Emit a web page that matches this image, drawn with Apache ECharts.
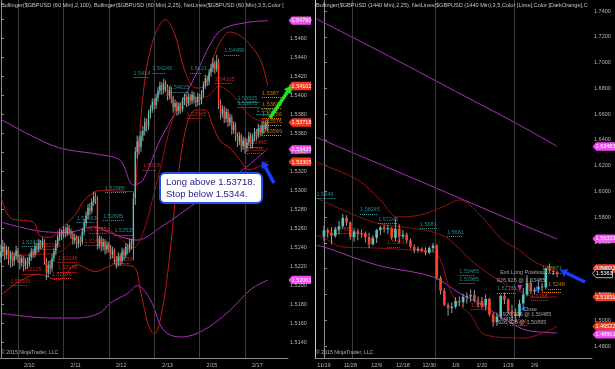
<!DOCTYPE html>
<html><head><meta charset="utf-8">
<script src="https://cdn.jsdelivr.net/npm/echarts@6/dist/echarts.min.js"></script>
<style>html,body{margin:0;padding:0;background:#000;}#c{width:615px;height:369px;}</style>
</head><body><div id="c"></div>
<script>
// ---------- LEFT PANEL (60 min) ----------
const leftDayLabels = ['2/10','2/11','2/12','2/13','2/15','2/17'];
const leftDayPos = [15, 39.5, 63.5, 88, 111.5, 135.5];
const leftDaySep = [9, 33, 57, 81, 105, 129];
const leftPriceTicks = [1.514,1.516,1.518,1.520,1.522,1.524,1.526,1.528,1.530,1.532,1.534,1.536,1.538,1.540,1.542,1.544,1.546,1.548];
// [open, close, low, high]
const leftCandles = [
[1.5230,1.5236,1.5224,1.5243],[1.5236,1.5241,1.5231,1.5248],[1.5241,1.5232,1.5227,1.5245],[1.5232,1.5238,1.5228,1.5242],
[1.5238,1.5228,1.5222,1.5241],[1.5228,1.5233,1.5219,1.5237],[1.5233,1.5226,1.5220,1.5236],[1.5226,1.5231,1.5221,1.5235],
[1.5231,1.5237,1.5227,1.5242],[1.5237,1.5229,1.5224,1.5240],[1.5229,1.5224,1.5217,1.5233],[1.5224,1.5229,1.5220,1.5232],
[1.5229,1.5221,1.5215,1.5231],[1.5221,1.5226,1.5217,1.5229],[1.5226,1.5223,1.5218,1.5230],[1.5223,1.5230,1.5220,1.5234],
[1.5230,1.5236,1.5226,1.5240],[1.5236,1.5233,1.5229,1.5239],[1.5233,1.5241,1.5230,1.5245],[1.5241,1.5238,1.5234,1.5244],
[1.5238,1.5245,1.5235,1.5249],[1.5245,1.5242,1.5238,1.5248],[1.5242,1.5247,1.5239,1.5251],[1.5247,1.5226,1.5222,1.5249],
[1.5226,1.5214,1.5206,1.5229],[1.5214,1.5222,1.5209,1.5226],[1.5222,1.5218,1.5212,1.5227],[1.5218,1.5229,1.5215,1.5233],
[1.5229,1.5236,1.5225,1.5240],[1.5236,1.5244,1.5232,1.5248],[1.5244,1.5251,1.5240,1.5255],[1.5251,1.5256,1.5247,1.5260],
[1.5256,1.5253,1.5248,1.5259],[1.5253,1.5259,1.5250,1.5263],[1.5259,1.5255,1.5251,1.5262],[1.5255,1.5261,1.5252,1.5265],
[1.5261,1.5257,1.5253,1.5264],[1.5257,1.5254,1.5249,1.5260],[1.5254,1.5248,1.5243,1.5257],[1.5248,1.5251,1.5244,1.5255],
[1.5251,1.5244,1.5239,1.5253],[1.5244,1.5249,1.5240,1.5252],[1.5249,1.5246,1.5241,1.5252],[1.5246,1.5257,1.5243,1.5261],
[1.5257,1.5266,1.5253,1.5270],[1.5266,1.5274,1.5262,1.5278],[1.5274,1.5282,1.5270,1.5286],[1.5282,1.5279,1.5274,1.5287],
[1.5279,1.5288,1.5276,1.5292],[1.5288,1.5294,1.5284,1.5299],[1.5294,1.5291,1.5286,1.5298],[1.5291,1.5243,1.5238,1.5294],
[1.5243,1.5249,1.5239,1.5253],[1.5249,1.5241,1.5236,1.5252],[1.5241,1.5246,1.5237,1.5250],[1.5246,1.5238,1.5233,1.5249],
[1.5238,1.5243,1.5234,1.5247],[1.5243,1.5240,1.5235,1.5246],[1.5240,1.5233,1.5228,1.5243],[1.5233,1.5237,1.5229,1.5241],
[1.5237,1.5228,1.5223,1.5239],[1.5228,1.5224,1.5218,1.5231],[1.5224,1.5231,1.5220,1.5235],[1.5231,1.5226,1.5221,1.5234],
[1.5226,1.5236,1.5223,1.5240],[1.5236,1.5232,1.5227,1.5239],[1.5232,1.5241,1.5229,1.5245],[1.5241,1.5238,1.5233,1.5244],
[1.5238,1.5246,1.5235,1.5250],[1.5246,1.5243,1.5238,1.5249],[1.5243,1.5292,1.5227,1.5298],[1.5292,1.5341,1.5285,1.5346],
[1.5341,1.5352,1.5334,1.5358],[1.5352,1.5346,1.5338,1.5357],[1.5346,1.5358,1.5341,1.5363],[1.5358,1.5363,1.5352,1.5368],
[1.5363,1.5372,1.5358,1.5377],[1.5372,1.5368,1.5362,1.5376],[1.5368,1.5381,1.5364,1.5385],[1.5381,1.5386,1.5376,1.5390],
[1.5386,1.5393,1.5382,1.5397],[1.5393,1.5390,1.5385,1.5397],[1.5390,1.5398,1.5386,1.5402],[1.5398,1.5405,1.5394,1.5409],
[1.5405,1.5411,1.5401,1.5415],[1.5411,1.5406,1.5401,1.5414],[1.5406,1.5413,1.5402,1.5418],[1.5413,1.5409,1.5404,1.5416],
[1.5409,1.5400,1.5395,1.5412],[1.5400,1.5406,1.5396,1.5410],[1.5406,1.5397,1.5392,1.5409],[1.5397,1.5388,1.5382,1.5400],
[1.5388,1.5392,1.5384,1.5396],[1.5392,1.5384,1.5379,1.5394],[1.5384,1.5389,1.5380,1.5393],[1.5389,1.5386,1.5381,1.5392],
[1.5386,1.5394,1.5383,1.5398],[1.5394,1.5398,1.5390,1.5402],[1.5398,1.5392,1.5388,1.5401],[1.5392,1.5399,1.5389,1.5403],
[1.5399,1.5395,1.5390,1.5402],[1.5395,1.5401,1.5391,1.5405],[1.5401,1.5396,1.5392,1.5404],[1.5396,1.5393,1.5388,1.5399],
[1.5393,1.5399,1.5389,1.5403],[1.5399,1.5395,1.5390,1.5402],[1.5395,1.5402,1.5391,1.5406],[1.5402,1.5411,1.5398,1.5415],
[1.5411,1.5418,1.5407,1.5422],[1.5418,1.5415,1.5410,1.5421],[1.5415,1.5424,1.5411,1.5428],[1.5424,1.5429,1.5420,1.5433],
[1.5429,1.5434,1.5425,1.5440],[1.5434,1.5428,1.5423,1.5437],[1.5428,1.5436,1.5425,1.5443],[1.5436,1.5392,1.5386,1.5439],
[1.5392,1.5381,1.5375,1.5396],[1.5381,1.5386,1.5377,1.5390],[1.5386,1.5376,1.5371,1.5389],[1.5376,1.5383,1.5372,1.5387],
[1.5383,1.5372,1.5367,1.5386],[1.5372,1.5377,1.5368,1.5381],[1.5377,1.5364,1.5359,1.5380],[1.5364,1.5369,1.5360,1.5373],
[1.5369,1.5357,1.5352,1.5372],[1.5357,1.5352,1.5346,1.5361],[1.5352,1.5358,1.5348,1.5362],[1.5358,1.5347,1.5341,1.5360],
[1.5347,1.5353,1.5343,1.5357],[1.5353,1.5345,1.5339,1.5356],[1.5345,1.5351,1.5341,1.5355],[1.5351,1.5358,1.5347,1.5362],
[1.5358,1.5349,1.5344,1.5361],[1.5349,1.5356,1.5345,1.5360],[1.5356,1.5362,1.5352,1.5366],[1.5362,1.5358,1.5353,1.5365],
[1.5358,1.5366,1.5355,1.5370],[1.5366,1.5361,1.5357,1.5369],[1.5361,1.5369,1.5358,1.5373],[1.5369,1.5365,1.5360,1.5372],
[1.5365,1.5371,1.5362,1.5375],[1.5371,1.5366,1.5362,1.5374]
];
const leftBB100Upper = [[0,1.5375],[16,1.5358],[31,1.5345],[52,1.5338],[63,1.5332],[70,1.5306],[75,1.5311],[84,1.5353],[100,1.5410],[112,1.5459],[118,1.5471],[130,1.5477],[141,1.5479]];
const leftBB100Mid = [[0,1.5267],[22,1.5257],[35,1.5256],[49,1.5262],[56,1.5257],[64,1.5251],[72,1.5248],[84,1.5261],[105,1.5290],[126,1.5319],[141,1.5344]];
const leftBB100Lower = [[0,1.5171],[26,1.5166],[40,1.5166],[52,1.5171],[58,1.5182],[67,1.5192],[72,1.5200],[79,1.5185],[86,1.5153],[95,1.5146],[107,1.5153],[121,1.5174],[132,1.5196],[141,1.5206]];
const leftBB25Upper = [[0,1.5293],[5,1.5271],[10,1.5269],[17,1.5267],[21,1.5252],[26,1.5251],[31,1.5259],[39,1.5274],[44,1.5290],[49,1.5298],[52,1.5300],[70,1.5299],[72,1.5330],[76,1.5416],[81,1.5462],[87,1.5480],[92,1.5464],[97,1.5427],[103,1.5408],[108,1.5411],[112,1.5438],[116,1.5457],[121,1.5467],[129,1.5459],[137,1.5438],[141,1.5410]];
const leftBB25Mid = [[0,1.5238],[10,1.5232],[20,1.5233],[30,1.5235],[40,1.5250],[50,1.5262],[60,1.5255],[70,1.5240],[75,1.5255],[80,1.5290],[85,1.5330],[90,1.5370],[95,1.5393],[100,1.5398],[105,1.5398],[110,1.5400],[115,1.5410],[120,1.5405],[125,1.5395],[130,1.5382],[135,1.5375],[141,1.5372]];
const leftBB25Lower = [[0,1.5190],[10,1.5205],[20,1.5212],[30,1.5206],[40,1.5222],[50,1.5215],[60,1.5222],[70,1.5220],[74,1.5192],[78,1.5158],[81,1.5149],[85,1.5172],[89,1.5228],[93,1.5305],[98,1.5368],[103,1.5385],[108,1.5385],[112,1.5368],[116,1.5352],[121,1.5345],[126,1.5333],[131,1.5322],[136,1.5325],[141,1.5331]];
// net lines: [fromBar, toBar, price, text]
const leftNetTeal = [[11,19,1.52416,'1.52416'],[40,49,1.52663,'1.52663'],[55,66,1.52985,'1.52985'],[54,65,1.52685,'1.52685'],[60,70,1.52535,'1.52535'],[70,78,1.5419,'1.5414'],[80,87,1.5424,'1.54245'],[100,106,1.5424,'1.5421'],[89,99,1.5404,'1.54025'],[118,126,1.5443,'1.54489'],[125,137,1.5393,'1.53925'],[125,137,1.5388,'1.53875'],[135,142,1.5380,'1.53805']];
const leftNetRed = [[5,14,1.52005,'1.52005'],[11,19,1.52125,'1.52125'],[21,30,1.52386,'1.52386'],[30,40,1.52245,'1.52245'],[30,40,1.52146,'1.52146'],[27,37,1.52075,'1.52075'],[44,52,1.52426,'1.52426'],[47,56,1.52551,'1.52551'],[59,68,1.52236,'1.52236'],[75,82,1.5322,'1.5319'],[98,106,1.5376,'1.53765'],[113,122,1.5413,'1.54105'],[130,138,1.5346,'1.53465'],[130,138,1.5339,'1.5336']];
const leftNetOrange = [[138,148,1.5398,'1.5387'],[138,148,1.5387,'1.53815'],[138,148,1.5376,'1.53756'],[138,148,1.5369,'1.53576'],[138,148,1.5358,'1.53549']];
const leftTagVals = [1.54790,1.54102,1.53718,1.53435,1.53305,1.52061];
const leftTagKinds = ['pink','red','red','pink','red','pink'];

// ---------- RIGHT PANEL (1440 min) ----------
const rightDateLabels = ['11/19','11/28','12/9','12/18','12/30','1/9','1/20','1/29','2/9'];
const rightDatePos = [0,7,14,21,28,35,42,49,56];
const rightMonthSep = [7.5,29.5,50.5];
const rightPriceTicks = [1.48,1.50,1.52,1.54,1.56,1.58,1.60,1.62,1.64,1.66,1.68,1.70,1.72,1.74];
const rightCandles = [
[1.5650,1.5700,1.5615,1.5735],[1.5700,1.5680,1.5640,1.5715],[1.5680,1.5655,1.5590,1.5720],[1.5655,1.5705,1.5640,1.5725],
[1.5705,1.5730,1.5665,1.5770],[1.5730,1.5795,1.5710,1.5825],[1.5795,1.5760,1.5735,1.5815],[1.5760,1.5645,1.5625,1.5765],
[1.5645,1.5690,1.5610,1.5715],[1.5690,1.5675,1.5620,1.5710],[1.5675,1.5670,1.5640,1.5705],[1.5670,1.5645,1.5605,1.5690],
[1.5645,1.5590,1.5560,1.5680],[1.5590,1.5640,1.5580,1.5660],[1.5640,1.5700,1.5600,1.5710],[1.5700,1.5720,1.5660,1.5735],
[1.5720,1.5705,1.5680,1.5740],[1.5705,1.5715,1.5670,1.5740],[1.5715,1.5640,1.5625,1.5725],[1.5640,1.5710,1.5615,1.5785],
[1.5710,1.5650,1.5600,1.5745],[1.5650,1.5665,1.5630,1.5700],[1.5665,1.5620,1.5595,1.5680],[1.5620,1.5570,1.5555,1.5635],
[1.5570,1.5545,1.5520,1.5590],[1.5545,1.5555,1.5525,1.5575],[1.5555,1.5540,1.5525,1.5565],[1.5540,1.5525,1.5505,1.5565],
[1.5525,1.5560,1.5515,1.5575],[1.5560,1.5580,1.5530,1.5600],[1.5580,1.5330,1.5315,1.5590],[1.5330,1.5230,1.5200,1.5345],
[1.5230,1.5120,1.5110,1.5250],[1.5120,1.5095,1.5035,1.5135],[1.5095,1.5105,1.5055,1.5140],[1.5105,1.5150,1.5090,1.5180],
[1.5150,1.5140,1.5110,1.5185],[1.5140,1.5180,1.5100,1.5205],[1.5180,1.5185,1.5130,1.5215],[1.5185,1.5195,1.5140,1.5240],
[1.5195,1.5155,1.5140,1.5235],[1.5155,1.5150,1.5100,1.5185],[1.5150,1.5115,1.5090,1.5180],[1.5115,1.5165,1.5075,1.5200],
[1.5165,1.5045,1.5030,1.5175],[1.5045,1.4985,1.4950,1.5060],[1.4985,1.5030,1.4955,1.5060],[1.5030,1.5190,1.5010,1.5200],
[1.5190,1.5160,1.5125,1.5215],[1.5160,1.5070,1.5050,1.5170],[1.5070,1.5050,1.5015,1.5120],[1.5050,1.5035,1.4990,1.5090],
[1.5035,1.5130,1.5020,1.5160],[1.5130,1.5200,1.5105,1.5250],[1.5200,1.5290,1.5185,1.5350],[1.5290,1.5225,1.5205,1.5310],
[1.5225,1.5235,1.5200,1.5255],[1.5235,1.5260,1.5210,1.5300],[1.5260,1.5255,1.5225,1.5290],[1.5255,1.5405,1.5240,1.5410],
[1.5405,1.5385,1.5365,1.5440],[1.5385,1.5375,1.5350,1.5390],[1.5375,1.5363,1.5335,1.5385]
];
const rightBB100Upper = [[-2,1.7340],[10,1.7160],[20,1.7009],[30,1.6854],[40,1.6700],[50,1.6547],[62,1.6350]];
const rightBB100Mid = [[-2,1.6420],[10,1.6271],[20,1.6148],[30,1.6024],[40,1.5899],[50,1.5775],[62,1.5631]];
const rightBB100Lower = [[-2,1.5580],[0,1.5569],[14,1.5429],[29,1.5336],[36,1.5211],[42,1.5120],[48,1.5010],[53,1.4930],[57,1.4910],[62,1.4901]];
const rightBB25Upper = [[-2,1.6230],[0,1.6205],[9,1.6089],[15,1.5934],[19.5,1.5802],[25.5,1.5817],[31.5,1.5879],[36,1.5934],[41.5,1.5817],[47.5,1.5623],[52,1.5545],[56.5,1.5444],[62,1.5402]];
const rightBB25Mid = [[-2,1.5949],[5,1.5856],[14,1.5755],[23,1.5716],[29,1.5685],[33.5,1.5623],[39,1.5468],[43.5,1.5367],[47.5,1.5289],[51.5,1.5235],[56.5,1.5180],[62,1.5181]];
const rightBB25Lower = [[-2,1.5660],[0,1.5639],[5,1.5569],[14,1.5561],[23,1.5545],[29,1.5530],[31,1.5468],[33.5,1.5235],[36,1.5118],[39,1.5041],[43,1.4885],[53,1.4862],[62,1.4952]];
const rightNetTeal = [[-2,3,1.5949,'1.5949'],[9.6,14.4,1.5825,'1.58245'],[14.4,19.7,1.5752,'1.57245'],[25.5,30,1.5716,'1.5681'],[32.7,36.7,1.5654,'1.5661'],[36,40,1.5351,'1.53485'],[36,40,1.5289,'1.52985'],[46,51,1.5212,'1.52135']];
const rightNetRed = [[1.5,11.4,1.5677,'1.56785'],[16.8,20.2,1.5569,'1.5569'],[55,59.6,1.5157,'1.5158'],[39,43,1.5083,'1.5083'],[49.5,54,1.4963,'1.4996']];
const rightNetOrange = [[59.6,63,1.5243,'1.5248'],[58,63,1.5215,'']];
const rightNetLime = [[58,63,1.5367,'1.53671']];
const rightTradeText = [[52.7,1.5367,'Exit Long Position'],[52.4,1.5305,'926,926 @ 1.53485'],[54.8,1.5087,'Close'],[54,1.5048,'926,926 @ 1.50485'],[48.7,1.5017,'Long'],[52.7,1.4986,'926,926 @ 1.50895']];
const rightExitMarks = [[52.1,1.5250]];
const rightEntryMarks = [[56.6,1.5246],[53,1.5100]];
const rightTagVals = [1.63483,1.56332,1.54022,1.51811,1.49522,1.48901];
const rightTagKinds = ['pink','pink','red','red','red','pink'];
const rightLastPrice = 1.5363;

// ---------- styling ----------
const UP = '#52c6bd', DOWN = '#ff4322', WICK = '#9c9c9c';
const MAG = '#b02cc0', BRED = '#c01818', BRED2 = '#9a1010';
const TEAL = '#2aa8a8', NRED = '#e8321e', ORANGE = '#ff8c00', LIME = '#32cd32';
const AX = '#8a8a8a', TXT = '#b8b8b8';
const FONT = 'Arial, "Liberation Sans", sans-serif';

function candleRenderer(ratio) {
  return function (params, api) {
    const x = api.value(0), o = api.value(1), c = api.value(2), l = api.value(3), h = api.value(4);
    const pO = api.coord([x, o]), pC = api.coord([x, c]), pL = api.coord([x, l]), pH = api.coord([x, h]);
    const w = Math.max(api.size([1, 0])[0] * ratio, 1);
    const top = Math.min(pO[1], pC[1]), bot = Math.max(pO[1], pC[1]);
    return { type: 'group', children: [
      { type: 'line', shape: { x1: pL[0], y1: pL[1], x2: pH[0], y2: pH[1] }, style: { stroke: WICK, lineWidth: 1 } },
      { type: 'rect', shape: { x: pO[0] - w / 2, y: top, width: w, height: Math.max(bot - top, 1) }, style: { fill: c >= o ? UP : DOWN } }
    ]};
  };
}
function band(data, color, xi, width) {
  return { type: 'line', xAxisIndex: xi, yAxisIndex: xi, data: data, smooth: 0.35, showSymbol: false, silent: true,
    lineStyle: { color: color, width: width || 1 }, z: 3 };
}
function netLines(arr, color, xi) {
  return [
    { type: 'lines', coordinateSystem: 'cartesian2d', xAxisIndex: xi, yAxisIndex: xi, silent: true, z: 4,
      data: arr.map(d => ({ coords: [[d[0], d[2]], [d[1], d[2]]] })),
      lineStyle: { color: color, width: 1, type: [1, 1], opacity: 1 } },
    { type: 'scatter', xAxisIndex: xi, yAxisIndex: xi, silent: true, z: 5, symbolSize: 0,
      data: arr.map(d => [d[0], d[2], d[3]]),
      label: { show: true, position: [0, -7], formatter: p => p.data[2], color: color, fontSize: 5.5, fontFamily: FONT } }
  ];
}
function sepLines(arr, xi) {
  return { type: 'line', xAxisIndex: xi, yAxisIndex: xi, data: [], silent: true,
    markLine: { symbol: 'none', silent: true, label: { show: false }, animation: false,
      lineStyle: { color: '#3a3a3a', width: 1, type: 'solid' }, data: arr.map(v => ({ xAxis: v })) } };
}

const chart = echarts.init(document.getElementById('c'), null, { renderer: 'canvas' });
const option = {
  backgroundColor: '#000',
  animation: false,
  grid: [
    { left: 0, top: 0, width: 288, height: 358 },
    { left: 315, top: 0, width: 277, height: 358 }
  ],
  xAxis: [
    { type: 'value', gridIndex: 0, min: -0.5, max: 151.7, splitLine: { show: false },
      axisLine: { show: true, onZero: false, lineStyle: { color: AX } }, axisTick: { show: false },
      axisLabel: { customValues: leftDayPos, color: TXT, fontSize: 5.5, fontFamily: FONT, margin: 4,
        formatter: v => leftDayLabels[leftDayPos.indexOf(v)] || '' } },
    { type: 'value', gridIndex: 1, min: -2.39, max: 71.28, splitLine: { show: false },
      axisLine: { show: true, onZero: false, lineStyle: { color: AX } }, axisTick: { show: false },
      axisLabel: { customValues: rightDatePos, color: TXT, fontSize: 5.5, fontFamily: FONT, margin: 4,
        formatter: v => rightDateLabels[rightDatePos.indexOf(v)] || '' } }
  ],
  yAxis: [
    { type: 'value', gridIndex: 0, position: 'right', min: 1.51239, max: 1.55007, splitLine: { show: false },
      axisLine: { show: true, lineStyle: { color: AX } },
      axisTick: { show: true, length: 3, customValues: leftPriceTicks, lineStyle: { color: AX } },
      axisLabel: { customValues: leftPriceTicks, color: TXT, fontSize: 5.5, fontFamily: FONT, margin: 2, formatter: v => v.toFixed(4) } },
    { type: 'value', gridIndex: 1, position: 'right', min: 1.4707, max: 1.7486, splitLine: { show: false },
      axisLine: { show: true, lineStyle: { color: AX } },
      axisTick: { show: true, length: 3, customValues: rightPriceTicks, lineStyle: { color: AX } },
      axisLabel: { customValues: rightPriceTicks, color: TXT, fontSize: 5.5, fontFamily: FONT, margin: 2, formatter: v => v.toFixed(4) } },
    { type: 'value', gridIndex: 1, position: 'left', min: 1.4707, max: 1.7486, splitLine: { show: false },
      axisLine: { show: true, lineStyle: { color: '#c8c8c8' } }, axisTick: { show: false }, axisLabel: { show: false } }
  ],
  series: [
    sepLines(leftDaySep, 0),
    sepLines(rightMonthSep, 1),
    band(leftBB100Upper, MAG, 0), band(leftBB100Mid, MAG, 0), band(leftBB100Lower, MAG, 0),
    band(leftBB25Upper, BRED, 0), band(leftBB25Mid, BRED2, 0), band(leftBB25Lower, BRED, 0),
    band(rightBB100Upper, MAG, 1), band(rightBB100Mid, MAG, 1), band(rightBB100Lower, MAG, 1),
    band(rightBB25Upper, BRED2, 1), band(rightBB25Mid, BRED2, 1), band(rightBB25Lower, BRED2, 1),
    { type: 'custom', xAxisIndex: 0, yAxisIndex: 0, clip: true, z: 6, silent: true,
      data: leftCandles.map((d, i) => [i, d[0], d[1], d[2], d[3]]), encode: { x: 0, y: [1, 2, 3, 4] },
      renderItem: candleRenderer(0.7) },
    { type: 'custom', xAxisIndex: 1, yAxisIndex: 1, clip: true, z: 6, silent: true,
      data: rightCandles.map((d, i) => [i, d[0], d[1], d[2], d[3]]), encode: { x: 0, y: [1, 2, 3, 4] },
      renderItem: candleRenderer(0.7) },
    ...netLines(leftNetTeal, TEAL, 0), ...netLines(leftNetRed, NRED, 0), ...netLines(leftNetOrange, ORANGE, 0),
    ...netLines(rightNetTeal, TEAL, 1), ...netLines(rightNetRed, NRED, 1), ...netLines(rightNetOrange, ORANGE, 1), ...netLines(rightNetLime, LIME, 1),
    { type: 'scatter', xAxisIndex: 1, yAxisIndex: 1, symbolSize: 0, silent: true, z: 7,
      data: rightTradeText, label: { show: true, position: 'inside', formatter: p => p.data[2], color: '#c8c8c8', fontSize: 5.5, fontFamily: FONT } },
    { type: 'scatter', xAxisIndex: 1, yAxisIndex: 1, symbol: 'triangle', symbolRotate: 180, symbolSize: [5, 6], silent: true, z: 7,
      data: rightExitMarks, itemStyle: { color: '#ff30ff' } },
    { type: 'scatter', xAxisIndex: 1, yAxisIndex: 1, symbol: 'triangle', symbolSize: [5, 6], silent: true, z: 7,
      data: rightEntryMarks, itemStyle: { color: '#2060ff' } }
  ]
};
chart.setOption(option);

// ---------- overlays: price tags, arrows, callout, titles ----------
function tag(x0, y, w, txt, fill, stroke, textFill) {
  return { type: 'group', z: 100, children: [
    { type: 'polygon', shape: { points: [[x0, y], [x0 + 3.5, y - 4.2], [x0 + w, y - 4.2], [x0 + w, y + 4.2], [x0 + 3.5, y + 4.2]] },
      style: { fill: fill, stroke: stroke, lineWidth: 0.8 } },
    { type: 'text', style: { text: txt, x: x0 + 3.5 + (w - 3.5) / 2, y: y + 0.3, align: 'center', verticalAlign: 'middle', fill: textFill, font: '5.5px ' + FONT } }
  ]};
}
function arrow(tail, tip, shaft, headLen, headW, color) {
  const dx = tip[0] - tail[0], dy = tip[1] - tail[1], L = Math.hypot(dx, dy);
  const ux = dx / L, uy = dy / L, nx = -uy, ny = ux;
  const bx = tip[0] - ux * headLen, by = tip[1] - uy * headLen;
  const pts = [
    [tail[0] + nx * shaft / 2, tail[1] + ny * shaft / 2], [bx + nx * shaft / 2, by + ny * shaft / 2],
    [bx + nx * headW / 2, by + ny * headW / 2], tip, [bx - nx * headW / 2, by - ny * headW / 2],
    [bx - nx * shaft / 2, by - ny * shaft / 2], [tail[0] - nx * shaft / 2, tail[1] - ny * shaft / 2]
  ];
  return { type: 'polygon', z: 110, shape: { points: pts }, style: { fill: color } };
}
const PINK = '#f04cf0', REDTAG = '#f03a22';
const g = [];
leftTagVals.forEach((v, i) => {
  const y = chart.convertToPixel({ yAxisIndex: 0 }, v);
  g.push(tag(288.5, y, 22.5, v.toFixed(5), leftTagKinds[i] === 'pink' ? PINK : REDTAG, 'none', '#fff'));
});
rightTagVals.forEach((v, i) => {
  const y = chart.convertToPixel({ yAxisIndex: 1 }, v);
  g.push(tag(592.5, y, 22.5, v.toFixed(5), rightTagKinds[i] === 'pink' ? PINK : REDTAG, 'none', '#fff'));
});
{
  const y = chart.convertToPixel({ yAxisIndex: 1 }, rightLastPrice);
  g.push(tag(592.5, y, 20, rightLastPrice.toFixed(4), '#000', '#e0e0e0', '#fff'));
}
g.push({ type: 'text', z: 90, style: { x: 1, y: 2, text: 'Bollinger($GBPUSD (60 Min),2,100), Bollinger($GBPUSD (60 Min),2,25), NetLines($GBPUSD (60 Min),3,5,Color [Lime],Color [',
  fill: '#c4c4c4', font: '5.6px ' + FONT, width: 286, overflow: 'truncate', ellipsis: '' } });
g.push({ type: 'text', z: 90, style: { x: 316, y: 2, text: 'Bollinger($GBPUSD (1440 Min),2,25), NetLines($GBPUSD (1440 Min),3,5,Color [Lime],Color [DarkOrange],Color [Teal],C',
  fill: '#c4c4c4', font: '5.6px ' + FONT, width: 275, overflow: 'truncate', ellipsis: '' } });
g.push({ type: 'text', z: 90, style: { x: 1, y: 350, text: '\u00a9 2015 NinjaTrader, LLC', fill: '#b0b0b0', font: '5.2px ' + FONT } });
g.push({ type: 'text', z: 90, style: { x: 316, y: 350, text: '\u00a9 2015 NinjaTrader, LLC', fill: '#b0b0b0', font: '5.2px ' + FONT } });
// callout
g.push({ type: 'rect', z: 120, shape: { x: 160, y: 173, width: 102, height: 30, r: 5 }, style: { fill: '#fff', stroke: '#1f4fe8', lineWidth: 2 } });
g.push({ type: 'text', z: 121, style: { x: 166, y: 177, text: 'Long above 1.53718.\nStop below 1.5344.', fill: '#1c1c8e', font: '9.5px ' + FONT, lineHeight: 11.5 } });
// arrows
g.push(arrow([270, 118], [292, 85], 3.5, 8, 9, '#22e022'));
g.push(arrow([274, 183], [262, 161], 3.5, 7, 9, '#1a3cff'));
g.push(arrow([585, 282], [560, 270], 3.5, 7, 9, '#1a3cff'));
chart.setOption({ graphic: g });
</script></body></html>
